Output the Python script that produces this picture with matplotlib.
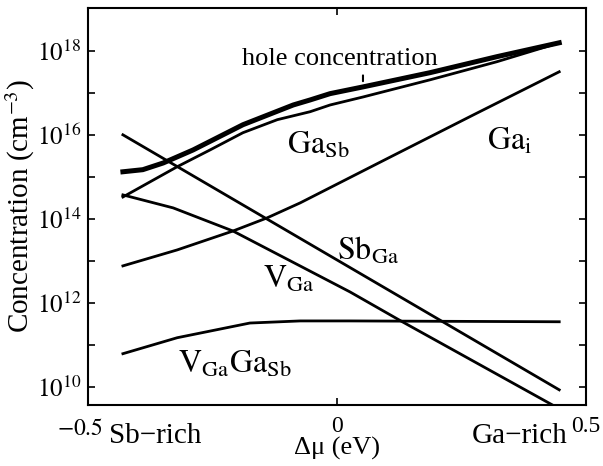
import numpy as np
import matplotlib
matplotlib.use('Agg')
import matplotlib.pyplot as plt
import matplotlib.transforms as mtransforms

plt.rcParams['font.family'] = ['Liberation Serif', 'DejaVu Serif']
plt.rcParams['mathtext.fontset'] = 'stix'

# chemical potential (eV) and log10 of concentration (cm^-3)
hole_x = [-0.430, -0.390, -0.349, -0.289, -0.189, -0.088, -0.054, -0.014, 0.052, 0.187, 0.321, 0.446]
hole_log = [15.12, 15.17, 15.33, 15.64, 16.24, 16.71, 16.83, 16.98, 17.14, 17.48, 17.86, 18.19]

gasb_x = [-0.430, -0.321, -0.255, -0.189, -0.120, -0.054, -0.014, 0.052, 0.187, 0.321, 0.446]
gasb_log = [14.52, 15.24, 15.64, 16.05, 16.36, 16.55, 16.71, 16.90, 17.31, 17.74, 18.19]

gai_x = [-0.430, -0.321, -0.209, -0.141, -0.074, 0.100, 0.273, 0.446]
gai_log = [12.88, 13.26, 13.71, 14.02, 14.38, 15.43, 16.47, 17.50]

sbga_x = [-0.430, 0.446]
sbga_log = [16.00, 9.93]

vga_x = [-0.430, -0.329, -0.209, 0.026, 0.131, 0.446]
vga_log = [14.57, 14.26, 13.71, 12.26, 11.55, 9.48]

vgagasb_x = [-0.430, -0.321, -0.175, -0.074, 0.026, 0.446]
vgagasb_log = [10.79, 11.17, 11.52, 11.57, 11.57, 11.55]

ytick_exp = [10, 11, 12, 13, 14, 15, 16, 17, 18]
xtick_vals = [-0.5, 0, 0.5]
xtick_labels = ['$-0.5$', '0', '0.5']

fig = plt.figure(figsize=(6.03, 4.66), dpi=100)
ax = fig.add_axes([0.146, 0.131, 0.826, 0.852])

lw = 2.0
ax.plot(hole_x, 10**np.array(hole_log), color='black', lw=3.6)
ax.plot(gasb_x, 10**np.array(gasb_log), color='black', lw=lw)
ax.plot(gai_x, 10**np.array(gai_log), color='black', lw=lw)
ax.plot(sbga_x, 10**np.array(sbga_log), color='black', lw=lw)
ax.plot(vga_x, 10**np.array(vga_log), color='black', lw=lw)
ax.plot(vgagasb_x, 10**np.array(vgagasb_log), color='black', lw=lw)

ax.set_yscale('log')
ax.set_xlim(-0.5, 0.5)
ax.set_ylim(10**9.57, 10**19.02)

ax.set_yticks([10.0**e for e in ytick_exp])
ax.set_yticklabels(['$10^{%d}$' % e if e % 2 == 0 else '' for e in ytick_exp])
ax.minorticks_off()
ax.set_xticks(xtick_vals)
ax.set_xticklabels(xtick_labels)
ax.tick_params(direction='in', length=5, width=1.2, top=True, right=True,
               labelsize=18, pad=5)
ax.tick_params(axis='x', pad=8, labelsize=17)
for s in ax.spines.values():
    s.set_linewidth(1.5)

# the -0.5 label sits a little left of its tick
lab = ax.get_xticklabels()[0]
lab.set_transform(lab.get_transform() + mtransforms.ScaledTranslation(-8/100, -3/100, fig.dpi_scale_trans))

ax.set_ylabel('Concentration (cm$^{-3}$)', fontsize=21, labelpad=0)
ax.set_xlabel('\u0394\u03bc (eV)', fontsize=19, labelpad=-2)

fs = 23
ax.text(-0.19, 10**17.67, 'hole concentration', fontsize=19, ha='left', va='baseline')
ax.annotate('', xy=(0.052, 10**17.21), xytext=(0.052, 10**17.48),
            arrowprops=dict(arrowstyle='-', lw=1.5, color='black'))
ax.text(-0.10, 10**15.55, r'$\mathrm{Ga}_{\mathrm{Sb}}$', fontsize=fs, ha='left', va='baseline')
ax.text(0.30, 10**15.64, r'$\mathrm{Ga}_{\mathrm{i}}$', fontsize=fs, ha='left', va='baseline')
ax.text(0.0, 10**13.02, r'$\mathrm{Sb}_{\mathrm{Ga}}$', fontsize=fs, ha='left', va='baseline')
ax.text(-0.149, 10**12.36, r'$\mathrm{V}_{\mathrm{Ga}}$', fontsize=fs, ha='left', va='baseline')
ax.text(-0.319, 10**10.33, r'$\mathrm{V}_{\mathrm{Ga}}\mathrm{Ga}_{\mathrm{Sb}}$', fontsize=fs,
        ha='left', va='baseline')

ax.text(0.135, -0.095, 'Sb\u2212rich', transform=ax.transAxes, fontsize=21, ha='center', va='baseline')
ax.text(0.962, -0.095, 'Ga\u2212rich', transform=ax.transAxes, fontsize=21, ha='right', va='baseline')

fig.savefig('out.png', dpi=100)
